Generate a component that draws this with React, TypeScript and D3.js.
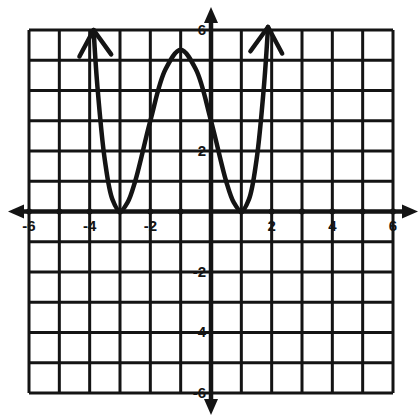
import React from "react";
import * as d3 from "d3";

const W = 420;
const H = 417;

// grid extent and tick labels
const gridValues = [-6, -5, -4, -3, -2, -1, 0, 1, 2, 3, 4, 5, 6];
const xTickLabels = [-6, -4, -2, 2, 4, 6];
const yTickLabels = [6, 2, -2, -4, -6];

// points
const curveX = [-3.87, -3.75, -3.5, -3.25, -3, -2.75, -2.5, -2, -1.5, -1, -0.5, 0, 0.5, 0.75, 1, 1.25, 1.5, 1.75, 1.88];
const curveY = [6.0, 4.2, 1.7, 0.4, 0, 0.3, 1.0, 3.0, 4.7, 5.35, 4.7, 3.0, 1.0, 0.3, 0, 0.4, 1.7, 4.2, 6.1];

const x = d3.scaleLinear().domain([-6, 6]).range([29, 393]);
const y = d3.scaleLinear().domain([-6, 6]).range([393, 30]);

const INK = "#141414";

function chevron(tip: [number, number], prev: [number, number], len: number, angDeg: number) {
  const dx = prev[0] - tip[0];
  const dy = prev[1] - tip[1];
  const base = Math.atan2(dy, dx);
  const a = (angDeg * Math.PI) / 180;
  const p1: [number, number] = [tip[0] + len * Math.cos(base + a), tip[1] + len * Math.sin(base + a)];
  const p2: [number, number] = [tip[0] + len * Math.cos(base - a), tip[1] + len * Math.sin(base - a)];
  return `M${p1[0]},${p1[1]}L${tip[0]},${tip[1]}L${p2[0]},${p2[1]}`;
}

function tri(tip: [number, number], dir: [number, number], len: number, half: number) {
  const [ux, uy] = dir;
  const bx = tip[0] - ux * len;
  const by = tip[1] - uy * len;
  const px = -uy;
  const py = ux;
  return `M${tip[0]},${tip[1]}L${bx + px * half},${by + py * half}L${bx - px * half},${by - py * half}Z`;
}

export default function App() {
  const pts: [number, number][] = curveX.map((v, i) => [x(v), y(curveY[i])]);
  const line = d3.line<[number, number]>().curve(d3.curveCatmullRom.alpha(0.5));
  const path = line(pts) || "";
  const n = pts.length;

  const x0 = x(0);
  const y0 = y(0);
  const xL = x(-6) - 21;
  const xR = x(6) + 25;
  const yT = y(6) - 23;
  const yB = y(-6) + 22;

  return (
    <svg
      width={W}
      height={H}
      style={{ position: "absolute", left: 0, top: 0, background: "#fff" }}
      fontFamily="Liberation Sans, Arial, sans-serif"
    >
      <rect x={0} y={0} width={W} height={H} fill="#fff" />
      {/* grid */}
      <g stroke={INK} strokeWidth={3}>
        {gridValues.map((g) => (
          <line key={"v" + g} x1={x(g)} x2={x(g)} y1={y(6)} y2={y(-6)} />
        ))}
        {gridValues.map((g) => (
          <line key={"h" + g} x1={x(-6)} x2={x(6)} y1={y(g)} y2={y(g)} />
        ))}
      </g>
      {/* axes */}
      <g stroke={INK} strokeWidth={4.5}>
        <line x1={xL + 10} x2={xR - 10} y1={y0} y2={y0} />
        <line x1={x0} x2={x0} y1={yT + 10} y2={yB - 10} />
      </g>
      <g fill={INK}>
        <path d={tri([xL, y0], [-1, 0], 16, 7)} />
        <path d={tri([xR, y0], [1, 0], 16, 7)} />
        <path d={tri([x0, yT], [0, -1], 16, 7)} />
        <path d={tri([x0, yB], [0, 1], 16, 7)} />
        {gridValues
          .filter((g) => g !== 0)
          .map((g) => (
            <circle key={"tk" + g} cx={x(g)} cy={y0} r={3} />
          ))}
      </g>
      {/* curve */}
      <path d={path} fill="none" stroke={INK} strokeWidth={4.5} strokeLinejoin="round" strokeLinecap="round" />
      <path
        d={chevron(pts[0], pts[1], 30, 32)}
        fill="none"
        stroke={INK}
        strokeWidth={4.5}
        strokeLinecap="round"
        strokeLinejoin="round"
      />
      <path
        d={chevron(pts[n - 1], pts[n - 2], 30, 32)}
        fill="none"
        stroke={INK}
        strokeWidth={4.5}
        strokeLinecap="round"
        strokeLinejoin="round"
      />
      {/* labels */}
      <g fill={INK} fontSize={15} fontWeight="bold">
        {xTickLabels.map((t) => (
          <text key={"xl" + t} x={x(t)} y={y0 + 16} textAnchor="middle" dominantBaseline="middle">
            {String(t)}
          </text>
        ))}
        {yTickLabels.map((t) => (
          <text key={"yl" + t} x={x0 - 5} y={y(t) + 1} textAnchor="end" dominantBaseline="middle">
            {String(t)}
          </text>
        ))}
      </g>
    </svg>
  );
}
